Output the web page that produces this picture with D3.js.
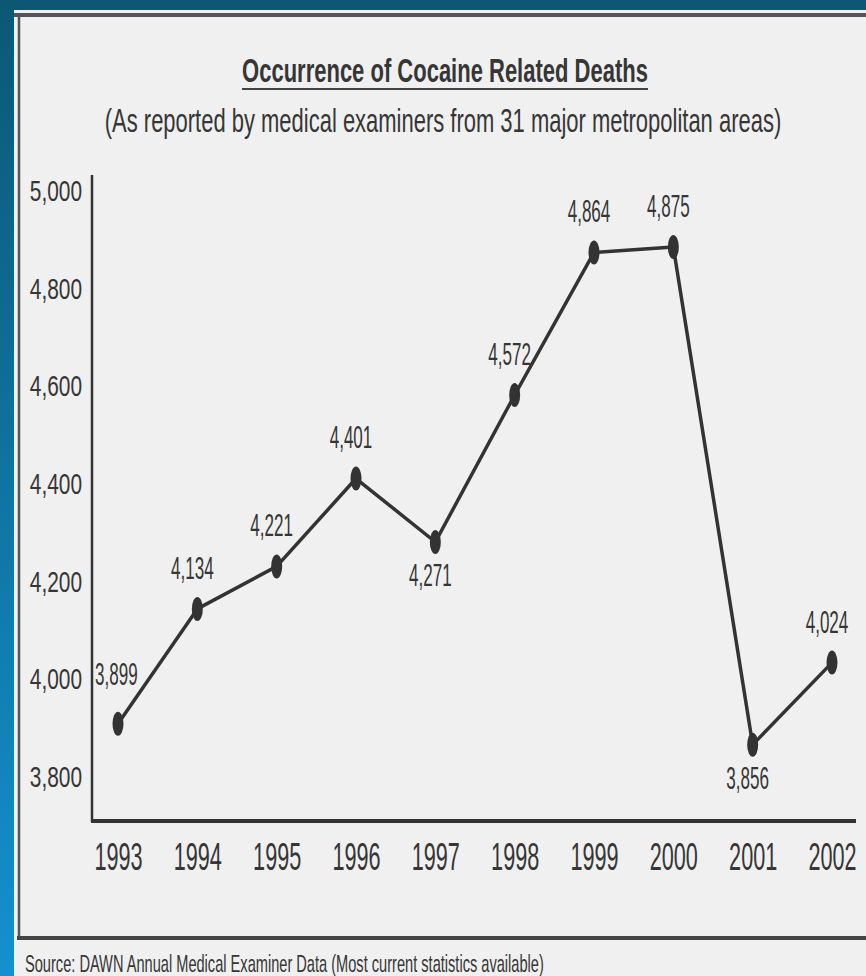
<!DOCTYPE html>
<html>
<head>
<meta charset="utf-8">
<script src="https://cdnjs.cloudflare.com/ajax/libs/d3/7.8.5/d3.min.js"></script>
<style>
  html, body { margin: 0; padding: 0; background: #0b5874; }
  svg { display: block; }
  text { font-family: 'Liberation Sans', Arial, sans-serif; fill: #363636; }
</style>
</head>
<body>
<svg id="chart" width="866" height="976"></svg>
<script>
// data
const years = [1993, 1994, 1995, 1996, 1997, 1998, 1999, 2000, 2001, 2002]
const deaths = [3899, 4134, 4221, 4401, 4271, 4572, 4864, 4875, 3856, 4024]
const yTicks = [3800, 4000, 4200, 4400, 4600, 4800, 5000]

const title = 'Occurrence of Cocaine Related Deaths'
const subtitle = '(As reported by medical examiners from 31 major metropolitan areas)'
const source = 'Source: DAWN Annual Medical Examiner Data (Most current statistics available)'

const W = 866, H = 976
const ink = '#333'
const fmt = d3.format(',')

const svg = d3.select('#chart')

// blue slide background + scanned paper
const defs = svg.append('defs')
const grad = defs.append('linearGradient').attr('id', 'side')
    .attr('x1', 0).attr('y1', 0).attr('x2', 0).attr('y2', 1)
grad.append('stop').attr('offset', '0%').attr('stop-color', '#0b5874')
grad.append('stop').attr('offset', '100%').attr('stop-color', '#1490d0')

svg.append('rect').attr('width', W).attr('height', H).attr('fill', '#0b5874')
svg.append('rect').attr('x', 0).attr('y', 0).attr('width', 14).attr('height', H).attr('fill', 'url(#side)')
svg.append('rect').attr('x', 14).attr('y', 10).attr('width', W - 14).attr('height', H - 10).attr('fill', '#f0f0f0')

// box around the figure
svg.append('line').attr('x1', 14).attr('x2', W).attr('y1', 15).attr('y2', 15)
    .attr('stroke', '#555').attr('stroke-width', 4)
svg.append('line').attr('x1', 19).attr('x2', 19).attr('y1', 15).attr('y2', 938)
    .attr('stroke', '#555').attr('stroke-width', 2.5)
svg.append('line').attr('x1', 17).attr('x2', W).attr('y1', 938).attr('y2', 938)
    .attr('stroke', '#444').attr('stroke-width', 4)

// the scan is stretched vertically, so squeeze text along x
function squeeze(sel, k) {
    sel.each(function() {
        const el = d3.select(this)
        const x0 = +el.attr('x') || 0
        el.attr('x', x0 / k).attr('transform', `scale(${k},1)`)
    })
}
// squeeze to a given width
function fitTo(sel, w) {
    sel.each(function() {
        const len = this.getComputedTextLength()
        d3.select(this).call(squeeze, w / len)
    })
}

// titles
svg.append('text').attr('x', 445).attr('y', 82).attr('text-anchor', 'middle')
    .attr('font-size', 33).attr('font-weight', 'bold').text(title)
    .call(fitTo, 406)
svg.append('line').attr('x1', 242).attr('x2', 648).attr('y1', 89).attr('y2', 89)
    .attr('stroke', '#444').attr('stroke-width', 2)

svg.append('text').attr('x', 443).attr('y', 132).attr('text-anchor', 'middle')
    .attr('font-size', 33).text(subtitle)
    .call(fitTo, 677)

svg.append('text').attr('x', 25).attr('y', 972)
    .attr('font-size', 24).text(source)
    .call(fitTo, 519)

// scales
const x = d3.scaleLinear().domain([1993, 2002]).range([118, 832])
const y = d3.scaleLinear().domain([3800, 5000]).range([772, 186])

// axes
const yAxis = svg.append('g').attr('transform', 'translate(92,0)')
    .call(d3.axisLeft(y).tickValues(yTicks).tickFormat(fmt).tickSize(0).tickPadding(10))
yAxis.select('.domain').remove()
yAxis.append('line').attr('x1', 0).attr('x2', 0).attr('y1', 175).attr('y2', 822)
    .attr('stroke', ink).attr('stroke-width', 2.5)
yAxis.selectAll('.tick text')
    .attr('font-family', 'Liberation Sans, Arial, sans-serif')
    .attr('font-size', 29).attr('fill', '#363636').attr('dy', '0.5em')
    .call(squeeze, 0.72)

const xAxis = svg.append('g').attr('transform', 'translate(0,821)')
    .call(d3.axisBottom(x).tickValues(years).tickFormat(d3.format('d')).tickSize(0).tickPadding(36))
xAxis.select('.domain').remove()
xAxis.append('line').attr('x1', 91).attr('x2', 856).attr('y1', 0).attr('y2', 0)
    .attr('stroke', ink).attr('stroke-width', 4)
xAxis.selectAll('.tick text')
    .attr('font-family', 'Liberation Sans, Arial, sans-serif')
    .attr('font-size', 38).attr('fill', '#363636').attr('dy', '0.35em')
    .call(squeeze, 0.57)

// the line
const pts = years.map((yr, i) => ({ yr: yr, v: deaths[i], i: i }))
const line = d3.line().x(d => x(d.yr)).y(d => y(d.v))

svg.append('path').datum(pts).attr('d', line)
    .attr('fill', 'none').attr('stroke', ink).attr('stroke-width', 3.5)
    .attr('stroke-linejoin', 'round')

svg.selectAll('.dot').data(pts).enter().append('ellipse').attr('class', 'dot')
    .attr('cx', d => x(d.yr)).attr('cy', d => y(d.v))
    .attr('rx', 5.5).attr('ry', 12).attr('fill', ink)

// value labels: below at dips, above otherwise; first one sits up and right of the dot
function isDip(i) {
    return i > 0 && i < deaths.length - 1 && deaths[i] < deaths[i - 1] && deaths[i] < deaths[i + 1]
}
svg.selectAll('.val').data(pts).enter().append('text').attr('class', 'val')
    .attr('x', d => d.i === 0 ? x(d.yr) - 23 : x(d.yr) - 5)
    .attr('y', d => d.i === 0 ? y(d.v) - 39 : isDip(d.i) ? y(d.v) + 44 : y(d.v) - 30)
    .attr('text-anchor', d => d.i === 0 ? 'start' : 'middle')
    .attr('font-size', 31)
    .text(d => fmt(d.v))
    .call(squeeze, 0.55)
</script>
</body>
</html>
